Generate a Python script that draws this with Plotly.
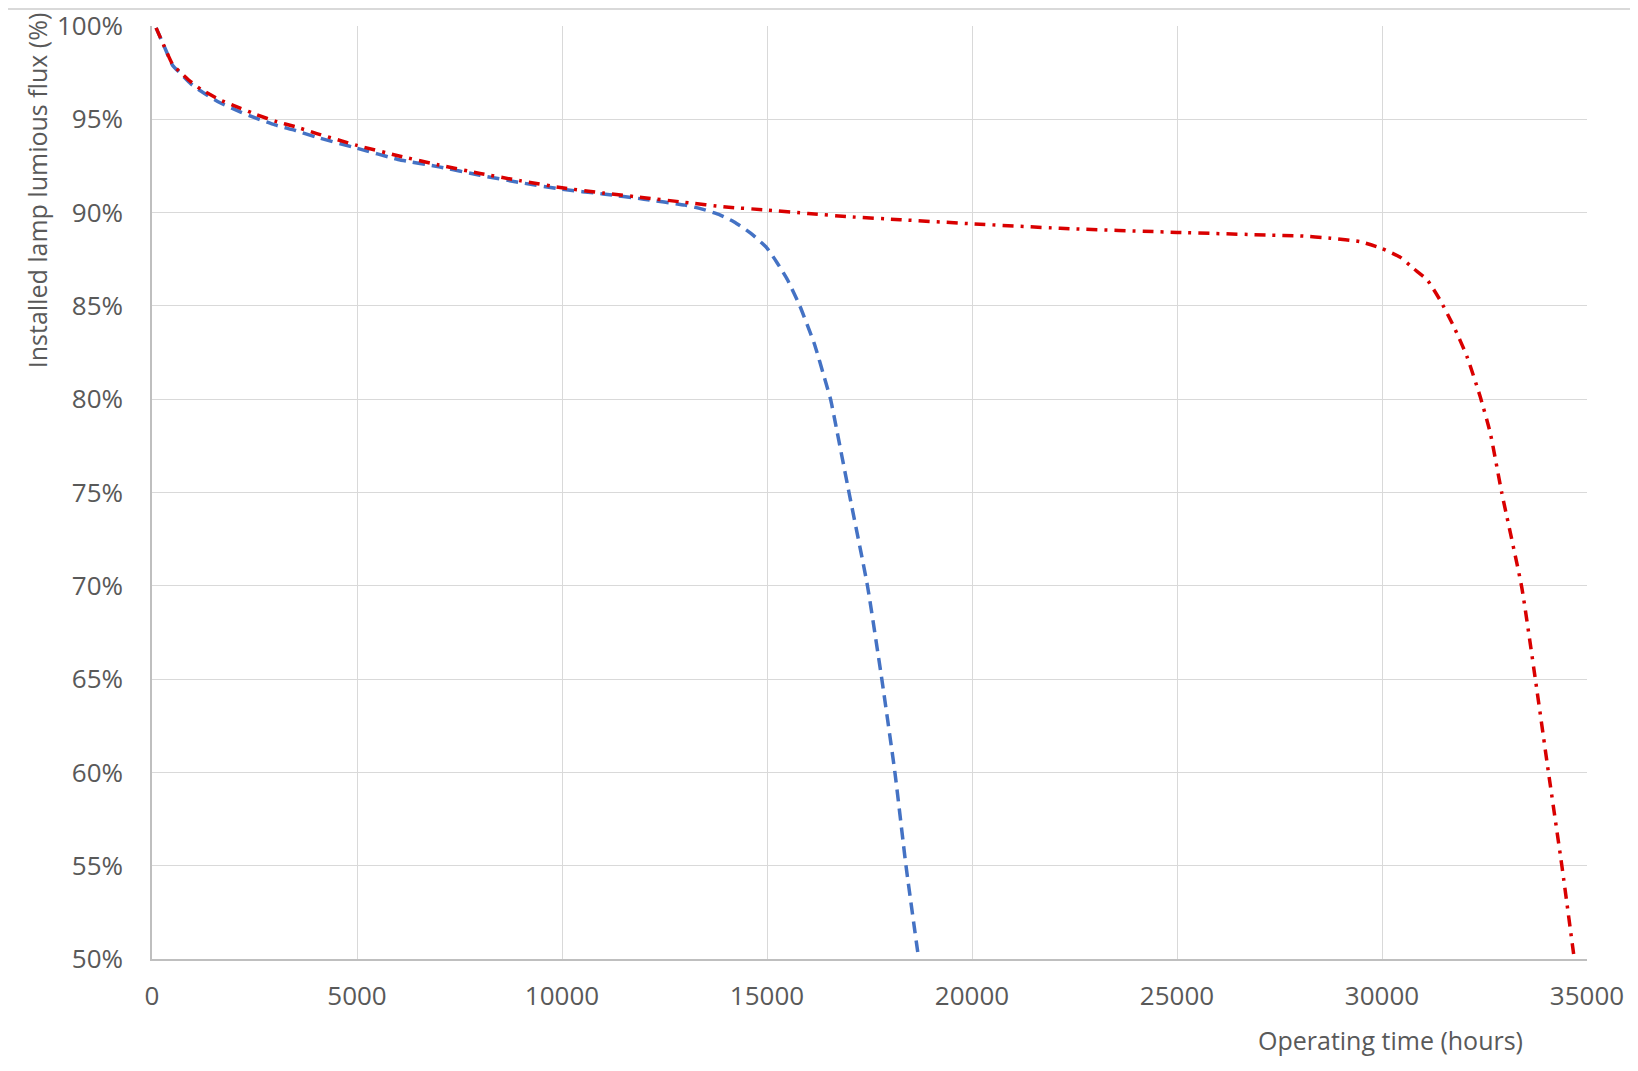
import plotly.graph_objects as go

# Blue (dashed) series: operating hours and installed lamp luminous flux (%)
blue_hours = [100, 300, 500, 700, 950, 1200, 1650, 2150, 2550, 3000, 3500, 4000,
              5000, 6000, 7000, 8000, 9000, 10000, 11000, 12000, 13000, 13400,
              13850, 14200, 14600, 15000, 15250, 15500, 15800, 16150, 16420,
              16550, 16670, 17000, 17450, 17800, 18120, 18390, 18700]
blue_flux = [99.9, 98.9, 97.9, 97.45, 96.9, 96.5, 95.9, 95.4, 95.05, 94.7, 94.4, 94.05,
             93.45, 92.85, 92.45, 92.0, 91.6, 91.25, 91.0, 90.72, 90.4, 90.2,
             89.88, 89.5, 88.9, 88.1, 87.3, 86.4, 85.0, 83.0, 81.0,
             80.0, 78.7, 75.0, 70.0, 65.0, 60.0, 55.0, 50.0]

# Red (dash-dot) series
red_hours = [100, 300, 500, 700, 950, 1200, 1650, 2150, 2550, 3000, 3500, 4000,
             5000, 6000, 7000, 8000, 9000, 10000, 11000, 12000, 13000, 14000,
             15000, 16000, 17000, 18250, 20000, 22150, 25000, 27200, 28000,
             28740, 29470, 30000, 30450, 30770, 31100, 31420, 31750, 32070,
             32400, 32640, 32920, 33410, 33740, 34060, 34390, 34690]
red_flux = [99.9, 98.9, 97.95, 97.5, 97.0, 96.6, 96.05, 95.6, 95.25, 94.9, 94.6, 94.25,
            93.6, 93.05, 92.55, 92.1, 91.7, 91.33, 91.05, 90.8, 90.55, 90.3,
            90.14, 89.95, 89.78, 89.62, 89.4, 89.16, 88.94, 88.8, 88.75,
            88.63, 88.44, 88.07, 87.6, 87.0, 86.4, 85.3, 83.9, 82.3,
            80.1, 78.2, 75.0, 69.9, 65.0, 60.0, 54.95, 50.0]

x_ticks = [0, 5000, 10000, 15000, 20000, 25000, 30000, 35000]
y_ticks = [50, 55, 60, 65, 70, 75, 80, 85, 90, 95, 100]
y_tick_labels = [f"{v}%" for v in y_ticks]

x_title = "Operating time (hours)"
y_title = "Installed lamp lumious flux (%)"

FONT = "Open Sans, Segoe UI, Noto Sans, sans-serif"
TXT = "#595959"

fig = go.Figure()
fig.add_trace(go.Scatter(
    x=blue_hours, y=blue_flux, mode="lines",
    line=dict(color="#4472C4", width=3.5, dash="12px,7px", shape="spline", smoothing=0.5),
    showlegend=False, hoverinfo="x+y"))
fig.add_trace(go.Scatter(
    x=red_hours, y=red_flux, mode="lines",
    line=dict(color="#D90000", width=3.5, dash="11px,7px,3px,7px", shape="spline", smoothing=0.5),
    showlegend=False, hoverinfo="x+y"))

fig.update_layout(
    width=1630, height=1055,
    margin=dict(l=144, r=51, t=18, b=104, autoexpand=False),
    paper_bgcolor="white", plot_bgcolor="white",
    font=dict(family=FONT, color=TXT, size=26),
    xaxis=dict(range=[0, 35000], tickvals=x_ticks, ticktext=[str(v) for v in x_ticks],
               showgrid=True, gridcolor="#D9D9D9", gridwidth=1,
               showline=True, linecolor="#BFBFBF", linewidth=1.5,
               zeroline=False, ticks="", ticklabelstandoff=13,
               ticklabeloverflow="allow",
               tickfont=dict(family=FONT, color=TXT, size=26)),
    yaxis=dict(range=[50, 100], tickvals=y_ticks, ticktext=y_tick_labels,
               showgrid=True, gridcolor="#D9D9D9", gridwidth=1,
               showline=True, linecolor="#BFBFBF", linewidth=1.5,
               zeroline=False, ticks="", ticklabelstandoff=22,
               ticklabeloverflow="allow",
               tickfont=dict(family=FONT, color=TXT, size=26)),
    annotations=[
        dict(text=x_title, xref="paper", yref="paper", x=0.863, y=-0.0868,
             xanchor="center", yanchor="middle", showarrow=False,
             font=dict(family=FONT, color=TXT, size=25)),
        dict(text=y_title, xref="paper", yref="paper", x=-0.0801, y=0.824,
             xanchor="center", yanchor="middle", showarrow=False, textangle=-90,
             font=dict(family=FONT, color=TXT, size=25)),
    ],
    shapes=[dict(type="line", xref="paper", yref="paper", x0=-0.2, x1=1.2,
                 y0=1.0182, y1=1.0182, line=dict(color="#D9D9D9", width=2))],
)

fig.write_html("out.html")
